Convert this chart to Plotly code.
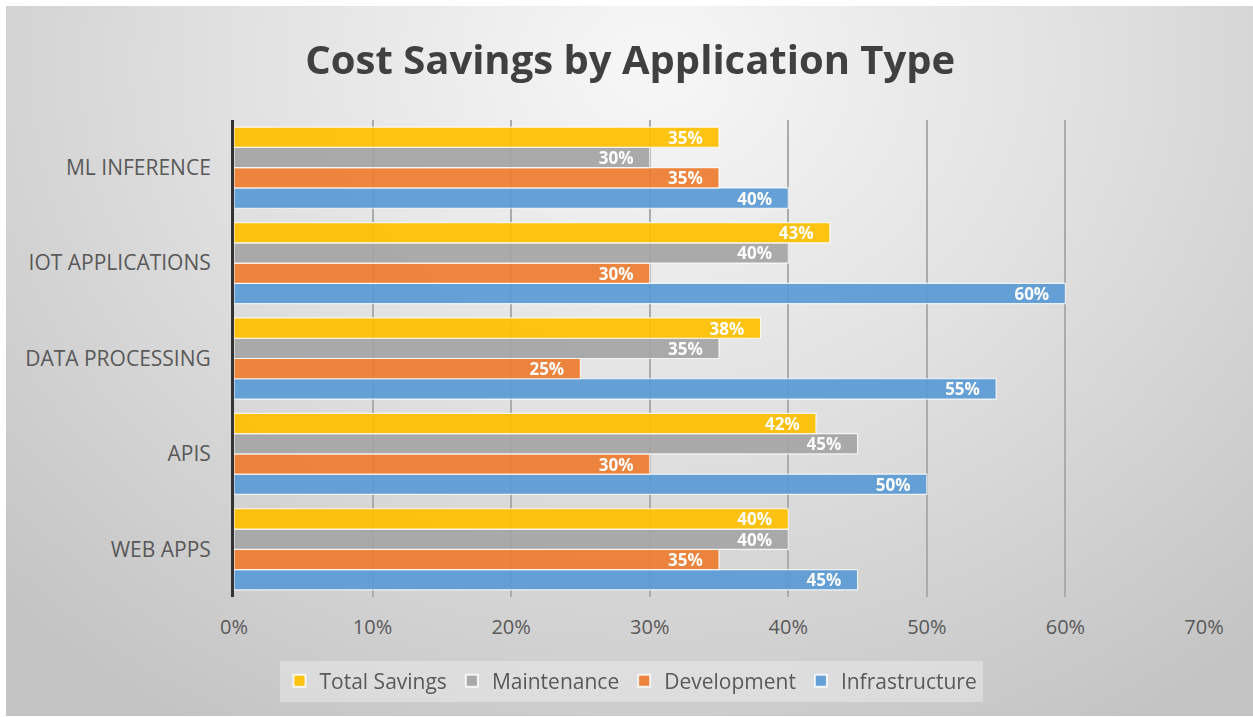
import base64
import plotly.graph_objects as go

categories = ["WEB APPS", "APIS", "DATA PROCESSING", "IOT APPLICATIONS", "ML INFERENCE"]
infrastructure = [45, 50, 55, 60, 40]
development = [35, 30, 25, 30, 35]
maintenance = [40, 45, 35, 40, 30]
total_savings = [40, 42, 38, 43, 35]
x_ticks = [0, 10, 20, 30, 40, 50, 60, 70]
x_tick_labels = ["0%", "10%", "20%", "30%", "40%", "50%", "60%", "70%"]

series = [
    ("Infrastructure", infrastructure, "#5b9bd5"),
    ("Development", development, "#ed7d31"),
    ("Maintenance", maintenance, "#a5a5a5"),
    ("Total Savings", total_savings, "#ffc000"),
]

W, H = 1253, 717
L, R, T, B = 234, 49, 120, 120
pw, ph = W - L - R, H - T - B

FONT = "Open Sans, Liberation Sans, sans-serif"
PAD = "\u00a0\u00a0\u00a0"

fig = go.Figure()
for name, vals, color in series:
    fig.add_trace(go.Bar(
        y=categories, x=vals, name=name, orientation="h",
        marker=dict(color=color, line=dict(color="rgba(255,255,255,0.85)", width=1.2)),
        opacity=0.93,
        text=[f"{v}%{PAD}" for v in vals], textposition="inside", insidetextanchor="end",
        textfont=dict(color="white", size=17, family=FONT, weight="bold"),
        cliponaxis=False,
    ))

svg = f'''<svg xmlns="http://www.w3.org/2000/svg" width="{W-6}" height="{H-7}" viewBox="0 0 {W-6} {H-7}">
<defs><radialGradient id="g" gradientUnits="userSpaceOnUse" cx="{(W-6)*0.52}" cy="60" r="900" gradientTransform="translate({(W-6)*0.52} 60) scale(1 0.85) translate({-(W-6)*0.52} -60)">
<stop offset="0" stop-color="#f7f7f7"/><stop offset="0.45" stop-color="#e2e2e2"/><stop offset="1" stop-color="#c4c4c4"/></radialGradient></defs>
<rect x="0" y="0" width="{W-6}" height="{H-7}" fill="url(#g)"/></svg>'''
uri = "data:image/svg+xml;base64," + base64.b64encode(svg.encode()).decode()

fig.add_layout_image(dict(
    source=uri, xref="paper", yref="paper",
    x=(6 - L) / pw, y=1 + (T - 6) / ph,
    sizex=(W - 6) / pw, sizey=(H - 7) / ph,
    xanchor="left", yanchor="top", sizing="stretch", layer="below",
))

fig.update_layout(
    width=W, height=H,
    margin=dict(l=L, r=R, t=T, b=B, autoexpand=False),
    paper_bgcolor="white", plot_bgcolor="rgba(0,0,0,0)",
    barmode="group", bargap=0.15, bargroupgap=0,
    title=dict(text="<b>Cost Savings by Application Type</b>", x=0.503, xref="container", xanchor="center",
               y=1 - 60 / H, yref="container", yanchor="middle",
               font=dict(family=FONT, size=40, color="#404040")),
    uniformtext=dict(minsize=17, mode="show"),
    legend=dict(orientation="h", traceorder="reversed", x=0.5 + (631 - (L + pw / 2)) / pw, xanchor="center",
                y=-(681 - T - ph) / ph, yanchor="middle",
                bgcolor="rgba(245,245,245,0.4)", font=dict(family=FONT, size=21, color="#595959"),
                itemwidth=30, itemsizing="constant", borderwidth=0),
    font=dict(family=FONT, color="#595959"),
)
fig.update_xaxes(range=[0, 70], tickvals=x_ticks, ticktext=x_tick_labels, showgrid=True,
                 gridcolor="#ababab", gridwidth=1.5, zeroline=False, showline=False,
                 tickfont=dict(size=20, color="#595959", family=FONT), ticklabelstandoff=16, fixedrange=True)
fig.update_yaxes(showline=True, linecolor="#333333", linewidth=3, showgrid=False,
                 tickfont=dict(size=21, color="#595959", family=FONT), ticklabelstandoff=16,
                 categoryorder="array", categoryarray=categories)

fig.write_html("out.html")
